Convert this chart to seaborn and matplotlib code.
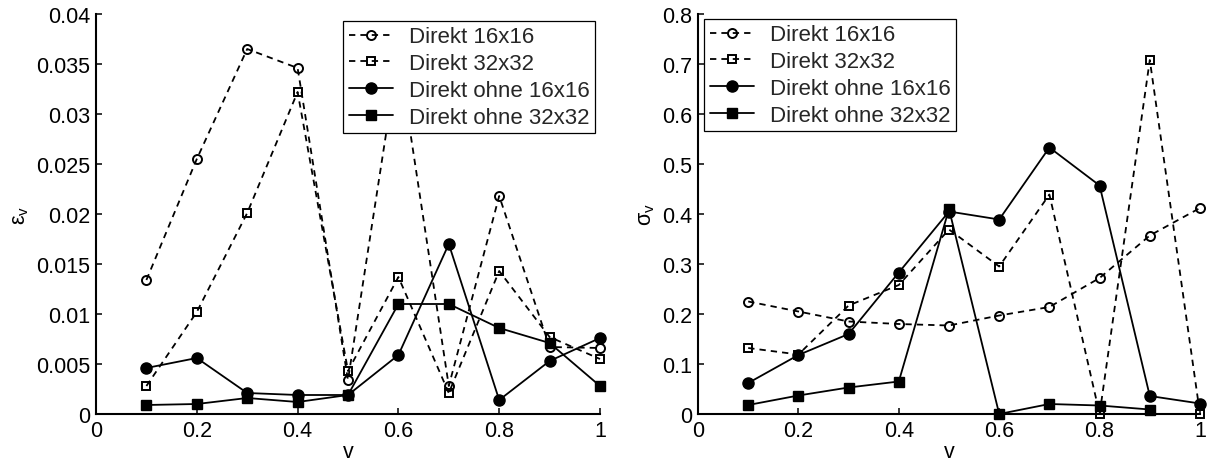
import numpy as np
import matplotlib
matplotlib.use("Agg")
import matplotlib.pyplot as plt
import seaborn as sns

# ---------------- data ----------------
v = [0.1, 0.2, 0.3, 0.4, 0.5, 0.6, 0.7, 0.8, 0.9, 1.0]

series_names = ["Direkt 16x16", "Direkt 32x32", "Direkt ohne 16x16", "Direkt ohne 32x32"]

# left panel (epsilon_v)
eps_d16 = [0.0134, 0.0255, 0.0365, 0.0346, 0.0034, 0.0360, 0.0028, 0.0218, 0.0067, 0.0066]
eps_d32 = [0.0028, 0.0102, 0.0201, 0.0322, 0.0043, 0.0137, 0.0021, 0.0143, 0.0077, 0.0055]
eps_o16 = [0.0046, 0.0056, 0.0021, 0.0019, 0.0019, 0.0059, 0.0170, 0.0014, 0.0053, 0.0076]
eps_o32 = [0.0009, 0.0010, 0.0016, 0.0012, 0.0019, 0.0110, 0.0110, 0.0086, 0.0071, 0.0028]

# right panel (sigma_v)
sig_d16 = [0.225, 0.205, 0.185, 0.180, 0.177, 0.197, 0.214, 0.272, 0.357, 0.412]
sig_d32 = [0.132, 0.119, 0.217, 0.258, 0.369, 0.295, 0.439, 0.000, 0.708, 0.000]
sig_o16 = [0.062, 0.118, 0.160, 0.283, 0.405, 0.389, 0.533, 0.457, 0.036, 0.021]
sig_o32 = [0.018, 0.037, 0.053, 0.065, 0.410, 0.000, 0.020, 0.017, 0.009, np.nan]

x_ticks = [0, 0.2, 0.4, 0.6, 0.8, 1.0]
x_ticklabels = ["0", "0.2", "0.4", "0.6", "0.8", "1"]
eps_ticks = [0, 0.005, 0.01, 0.015, 0.02, 0.025, 0.03, 0.035, 0.04]
eps_ticklabels = ["0", "0.005", "0.01", "0.015", "0.02", "0.025", "0.03", "0.035", "0.04"]
sig_ticks = [0, 0.1, 0.2, 0.3, 0.4, 0.5, 0.6, 0.7, 0.8]
sig_ticklabels = ["0", "0.1", "0.2", "0.3", "0.4", "0.5", "0.6", "0.7", "0.8"]

# ---------------- style ----------------
sns.set_theme(style="white")
plt.rcParams["font.family"] = ["Liberation Sans", "DejaVu Sans"]
plt.rcParams["mathtext.fontset"] = "custom"
plt.rcParams["mathtext.rm"] = "Liberation Sans"
plt.rcParams["mathtext.it"] = "Liberation Sans"

styles = [
    dict(marker="o", linestyle=(0, (3.5, 2.8)), markerfacecolor="none", markersize=6.5, markeredgewidth=1.4),
    dict(marker="s", linestyle=(0, (3.5, 2.8)), markerfacecolor="none", markersize=5.5, markeredgewidth=1.4),
    dict(marker="o", linestyle="-", markerfacecolor="black", markersize=8, markeredgewidth=1.0),
    dict(marker="s", linestyle="-", markerfacecolor="black", markersize=7, markeredgewidth=1.0),
]

fig = plt.figure(figsize=(12.16, 4.64), dpi=100)
ax1 = fig.add_axes([96 / 1216, 49 / 464, 504 / 1216, 400 / 464])
ax2 = fig.add_axes([698 / 1216, 49 / 464, 502 / 1216, 400 / 464])


def draw(ax, ys, yticks, yticklabels, ylim, ylabel, legend_loc, legend_anchor):
    for i, (name, y) in enumerate(zip(series_names, ys)):
        sns.lineplot(x=v, y=y, ax=ax, color="black", linewidth=1.3,
                     markeredgecolor="black", label=name, estimator=None,
                     errorbar=None, zorder=3 + i, clip_on=False, **styles[i])
    ax.set_xlim(0, 1)
    ax.set_ylim(*ylim)
    ax.set_xticks(x_ticks)
    ax.set_xticklabels(x_ticklabels)
    ax.set_yticks(yticks)
    ax.set_yticklabels(yticklabels)
    sns.despine(ax=ax)
    for s in ("left", "bottom"):
        ax.spines[s].set_color("black")
        ax.spines[s].set_linewidth(1.5)
    ax.tick_params(direction="in", length=4, width=1.1, colors="black",
                   labelsize=15.5, pad=4, left=True, bottom=True)
    ax.set_xlabel("v", fontsize=15.5, labelpad=0, color="black")
    ax.set_ylabel(ylabel, fontsize=15.5, labelpad=4, color="black")
    leg = ax.legend(loc=legend_loc, bbox_to_anchor=legend_anchor, fontsize=16,
                    frameon=True, fancybox=False, framealpha=1, edgecolor="black",
                    borderpad=0.25, handlelength=2.0, handletextpad=0.7,
                    labelspacing=0.26, borderaxespad=0)
    leg.get_frame().set_linewidth(0.9)
    leg.set_zorder(20)


draw(ax1, [eps_d16, eps_d32, eps_o16, eps_o32], eps_ticks, eps_ticklabels, (0, 0.04),
     r"$\mathrm{\varepsilon_v}$", "upper right", (0.99, 0.983))
draw(ax2, [sig_d16, sig_d32, sig_o16, sig_o32], sig_ticks, sig_ticklabels, (0, 0.8),
     r"$\mathrm{\sigma_v}$", "upper left", (0.012, 0.988))

fig.savefig("out.png", dpi=100)
